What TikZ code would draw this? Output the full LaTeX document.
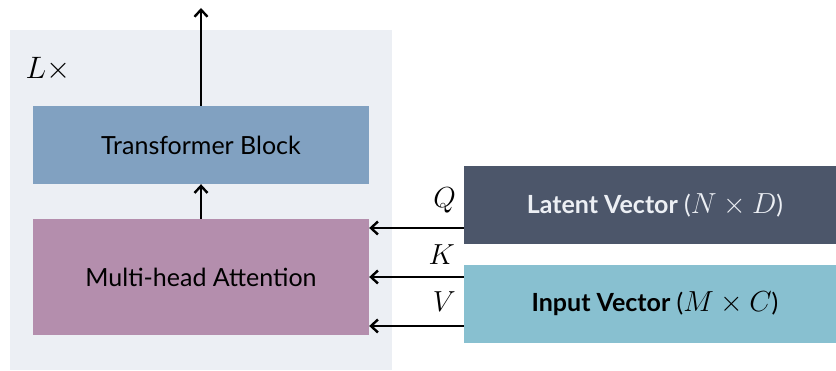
\RequirePackage{fix-cm}
\documentclass[tikz,border=0pt]{standalone}
\usepackage{fontspec}
\setmainfont{Lato}
\usetikzlibrary{arrows.meta}
\definecolor{nordbg}{HTML}{ECEFF4}
\definecolor{nordblue}{HTML}{81A1C1}
\definecolor{nordpurple}{HTML}{B48EAD}
\definecolor{norddark}{HTML}{4C566A}
\definecolor{nordfrost}{HTML}{88C0D0}
\newcommand{\bigmath}[1]{{\fontsize{29}{32}\selectfont$#1$}}
\tikzset{
  box/.style={draw=none, inner sep=0pt, font=\fontsize{25}{30}\selectfont},
  arr/.style={line width=2.4pt, -{Straight Barb[length=7pt,width=13pt,line width=2.4pt]}},
  lbl/.style={inner sep=0pt, anchor=east, font=\fontsize{29}{34}\selectfont}
}
\begin{document}
\begin{tikzpicture}[x=1pt,y=1pt]
\useasboundingbox (0,0) rectangle (836,371);
\fill[nordbg] (10,1) rectangle (392,341);
\node[inner sep=0pt, font=\fontsize{31}{34}\selectfont] (lx) at (48,302) {$L\times$};
\node[box, fill=nordblue, minimum width=336pt, minimum height=78pt] (tb) at (201,226) {Transformer Block};
\node[box, fill=nordpurple, minimum width=336pt, minimum height=116pt] (mha) at (201,94) {Multi-head Attention};
\node[box, fill=norddark, text=nordbg, minimum width=372pt, minimum height=78pt] (lat) at (650,166) {\hspace*{10pt}\textbf{Latent Vector} (\bigmath{N\times D})};
\node[box, fill=nordfrost, text=black, minimum width=372pt, minimum height=78pt] (inp) at (650,67) {\hspace*{10pt}\textbf{Input Vector} (\bigmath{M\times C})};
\coordinate (out) at (201,363);
\draw[arr] (tb.north) -- (out);
\draw[arr] (mha.north) -- (tb.south);
\coordinate (qa) at ([yshift=-23pt]lat.west);
\coordinate (ka) at ([yshift=27pt]inp.west);
\coordinate (va) at ([yshift=-22pt]inp.west);
\draw[arr] (qa) -- (qa -| mha.east);
\draw[arr] (ka) -- (ka -| mha.east);
\draw[arr] (va) -- (va -| mha.east);
\node[lbl] (q) at (456,171) {$Q$};
\node[lbl] (k) at (455,116) {$K$};
\node[lbl] (v) at (456,69) {$V$};
\end{tikzpicture}
\end{document}
